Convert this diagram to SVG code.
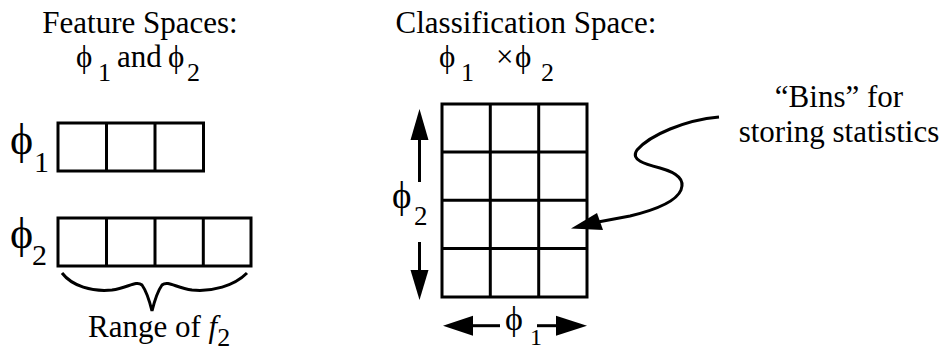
<svg xmlns="http://www.w3.org/2000/svg" width="946" height="352" viewBox="0 0 946 352">
<style>
text{font-family:"Liberation Serif","Times New Roman",serif;fill:#000}
.t{font-size:31px}
.sub{font-size:26px}
.box{fill:#fff;stroke:#000;stroke-width:3}
.ln{stroke:#000;stroke-width:3;fill:none}
.head{fill:#000;stroke:none}
</style>
<rect width="946" height="352" fill="#fff"/>
<g id="title-feature">
<text class="t" x="140" y="33" text-anchor="middle">Feature Spaces:</text>
<text class="t" x="76" y="66.7" font-size="33">ϕ</text>
<text class="sub" x="98" y="81">1</text>
<text class="t" x="117" y="66.7">and</text>
<text class="t" x="168" y="66.7" font-size="33">ϕ</text>
<text class="sub" x="187" y="81">2</text>
</g>
<g id="phi1-space">
<text x="10" y="154" font-size="44">ϕ</text>
<text x="34" y="171.5" font-size="30">1</text>
<rect class="box" x="58" y="123" width="145.5" height="48"/>
<line class="ln" x1="106.5" y1="123" x2="106.5" y2="171"/>
<line class="ln" x1="155" y1="123" x2="155" y2="171"/>
</g>
<g id="phi2-space">
<text x="10" y="247.5" font-size="44">ϕ</text>
<text x="32" y="265" font-size="30">2</text>
<rect class="box" x="58" y="218" width="193" height="48"/>
<line class="ln" x1="106.5" y1="218" x2="106.5" y2="266"/>
<line class="ln" x1="155" y1="218" x2="155" y2="266"/>
<line class="ln" x1="203.3" y1="218" x2="203.3" y2="266"/>
</g>
<g id="range-label">
<path class="ln" d="M62,273 C72,286 92,292 112,290 C128,288 136,280 142,285 C147,292 150,303 152,311 C154,303 157,292 162,285 C168,280 176,288 192,290 C212,292 234,286 247,273"/>
<text class="t" x="88" y="336.5">Range of <tspan font-style="italic">f</tspan><tspan class="sub" dy="9">2</tspan></text>
</g>
<g id="title-class">
<text class="t" x="526" y="33" text-anchor="middle" font-size="30.4">Classification Space:</text>
<text class="t" x="439" y="66.7" font-size="33">ϕ</text>
<text class="sub" x="461" y="81">1</text>
<text class="t" x="496" y="66.7">×</text>
<text class="t" x="515" y="66.7" font-size="33">ϕ</text>
<text class="sub" x="541" y="81">2</text>
</g>
<g id="grid">
<rect class="box" x="442" y="104" width="145" height="193"/>
<line class="ln" x1="490.3" y1="104" x2="490.3" y2="297"/>
<line class="ln" x1="538.7" y1="104" x2="538.7" y2="297"/>
<line class="ln" x1="442" y1="152" x2="587" y2="152"/>
<line class="ln" x1="442" y1="200.3" x2="587" y2="200.3"/>
<line class="ln" x1="442" y1="248.6" x2="587" y2="248.6"/>
</g>
<g id="axis-labels">
<text x="392" y="208" font-size="37">ϕ</text>
<text x="414" y="225" font-size="27">2</text>
<text x="505" y="330" font-size="34">ϕ</text>
<text x="530" y="345" font-size="24">1</text>
</g>
<g id="bins-label">
<text class="t" x="839" y="106.7" text-anchor="middle">“Bins” for</text>
<text class="t" x="839" y="141.7" text-anchor="middle">storing statistics</text>
</g>
<g id="connectors">
<line class="ln" x1="419.5" y1="139" x2="419.5" y2="182"/>
<polygon class="head" points="419.5,109 410.5,140 428.5,140"/>
<line class="ln" x1="419.5" y1="242" x2="419.5" y2="271"/>
<polygon class="head" points="410.5,270 428.5,270 419.5,300"/>
<line class="ln" x1="472" y1="325.7" x2="500" y2="325.7"/>
<polygon class="head" points="443,325.7 473,315.7 473,335.7"/>
<line class="ln" x1="537" y1="325.7" x2="557" y2="325.7"/>
<polygon class="head" points="556,315.7 556,335.7 587,325.7"/>
<path class="ln" d="M719,117 C685,120 650,135 637,150 C630,160 645,164 660,168 C678,173 685,180 681,190 C676,202 655,210 630,216 L598,222"/>
<polygon class="head" points="571,228.5 597,213 603,230"/>
</g>
</svg>
